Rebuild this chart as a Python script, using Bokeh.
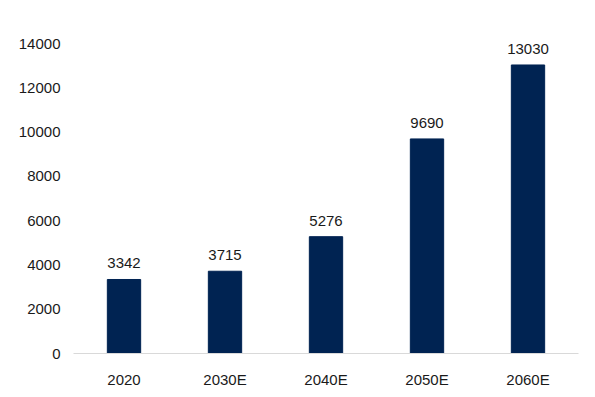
from bokeh.plotting import figure
from bokeh.models import ColumnDataSource, Range1d, FactorRange, LabelSet, SingleIntervalTicker
from bokeh.core.properties import value
from bokeh.embed import file_html
from bokeh.resources import INLINE

years = ["2020", "2030E", "2040E", "2050E", "2060E"]
values = [3342, 3715, 5276, 9690, 13030]
labels = [str(v) for v in values]

src = ColumnDataSource(data=dict(x=years, top=values, lab=labels))

p = figure(x_range=FactorRange(*years, range_padding=0), y_range=Range1d(0, 14000),
           width=587, height=389, output_backend="svg", toolbar_location=None,
           min_border_left=73, min_border_right=9, min_border_top=43, min_border_bottom=36)
p.frame_width = 505
p.frame_height = 310

p.vbar(x="x", top="top", width=0.33, source=src, fill_color="#002352", line_color="#002352")

p.add_layout(LabelSet(x="x", y="top", text="lab", source=src, text_align="center",
                      text_baseline="bottom", y_offset=11, text_font=value("Liberation Sans"),
                      text_font_size="15px", text_color="#1a1a1a"))

p.outline_line_color = None
p.grid.grid_line_color = None
p.background_fill_color = "white"
p.border_fill_color = "white"

p.yaxis.ticker = SingleIntervalTicker(interval=2000)
p.yaxis.axis_line_color = None
p.yaxis.major_tick_line_color = None
p.yaxis.minor_tick_line_color = None
p.yaxis.major_label_standoff = 7
p.yaxis.major_label_text_font = "Liberation Sans"
p.yaxis.major_label_text_font_size = "15px"
p.yaxis.major_label_text_color = "#1a1a1a"

p.xaxis.axis_line_color = "#d9d9d9"
p.xaxis.axis_line_width = 1
p.xaxis.major_tick_line_color = None
p.xaxis.minor_tick_line_color = None
p.xaxis.major_label_standoff = 11
p.xaxis.major_label_text_font = "Liberation Sans"
p.xaxis.major_label_text_font_size = "15px"
p.xaxis.major_label_text_color = "#1a1a1a"

open("out.html", "w").write(file_html(p, INLINE))
